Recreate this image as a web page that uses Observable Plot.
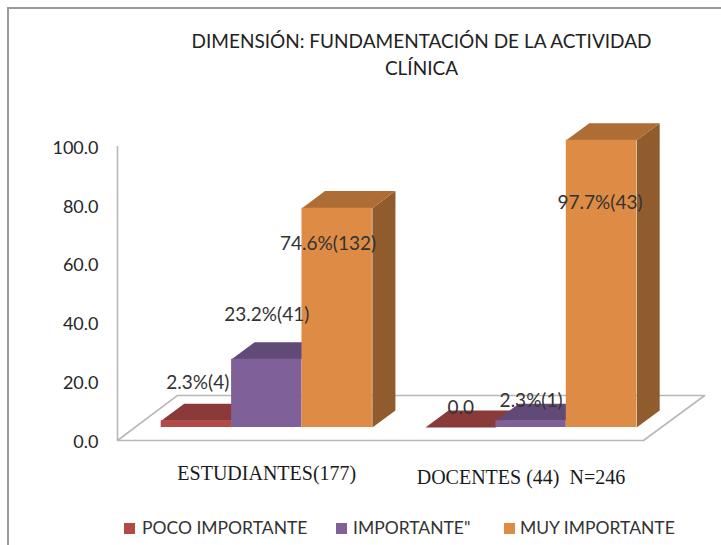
<!DOCTYPE html>
<html>
<head>
<meta charset="utf-8">
<script src="https://cdn.jsdelivr.net/npm/d3@7"></script>
<script src="https://cdn.jsdelivr.net/npm/@observablehq/plot@0.6"></script>
<style>
html,body{margin:0;padding:0;background:#fff;width:721px;height:545px;overflow:hidden}
#page{position:relative;width:721px;height:545px;font-family:Lato,sans-serif;color:#262626}
#edge{position:absolute;left:7px;top:7px;right:-5px;bottom:-5px;border:2px solid #9a9a9a}
#title{position:absolute;left:0;top:27px;width:843px;text-align:center;font-size:19px;line-height:27px;color:#222}
#chart{position:absolute;left:0;top:85px}
#chart svg{overflow:visible}
#legend{position:absolute;left:0;top:517px;height:22px;font-size:17.5px;line-height:22px;color:#333}
#legend span{position:absolute;white-space:nowrap}
#legend i{position:absolute;top:6px;width:11px;height:11px}
</style>
</head>
<body>
<div id="page">
  <div id="edge"></div>
  <div id="title">DIMENSIÓN: FUNDAMENTACIÓN DE LA ACTIVIDAD<br>CLÍNICA</div>
  <div id="chart"></div>
  <div id="legend"></div>
</div>
<script>
// ---- data ----
const groups = ["ESTUDIANTES(177)", "DOCENTES (44)  N=246"];
const levels = ["POCO IMPORTANTE", "IMPORTANTE\"", "MUY IMPORTANTE"];
const estudiantes = [2.3, 23.2, 74.6];
const docentes = [0.0, 2.3, 97.7];
const estudiantesLabels = ["2.3%(4)", "23.2%(41)", "74.6%(132)"];
const docentesLabels = ["0.0", "2.3%(1)", "97.7%(43)"];
const yTicks = [0, 20, 40, 60, 80, 100];

// ---- styling ----
const frontColor = ["#b24a48", "#7f6099", "#de8b45"];
const topColor = ["#8a3a39", "#614a78", "#ad6d35"];
const sideColor = ["#7a3332", "#54406a", "#915c2d"];

// ---- layout (units: x = one bar width, y = value units) ----
const groupStep = 3.754;
const depthX = 0.327, depthY = 5.8;
const lift = -13;
const xDomain = [-0.6207, 7.959];
const floorLine = [[-0.6207, 0], [0.2275, 15.3], [7.72, 15.3], [6.85, 0], [-0.6207, 0]].map(([x, y]) => ({x, y}));
const labelNudge = [
  [[0.02, -51], [0, -57], [-0.13, 23]],
  [[0, -33], [0, -33], [-0.02, 50]]
];
const groupLabelPos = [[1.5, 33], [5.11, 37]];

const rows = groups.flatMap((g, gi) => levels.map((level, li) => ({
  group: g, level, li, gi, value: (gi ? docentes : estudiantes)[li],
  label: (gi ? docentesLabels : estudiantesLabels)[li],
  x1: gi * groupStep + li, x2: gi * groupStep + li + 1
})));

const face = (pts, fill) => Plot.line(pts.map(([x, y]) => ({x, y})), {
  x: "x", y: "y", fill, stroke: "none", dy: lift
});

const barMarks = rows.flatMap(r => {
  const {x1, x2, value: v, li} = r;
  return [
    face([[x2, 0], [x2 + depthX, depthY], [x2 + depthX, v + depthY], [x2, v]], sideColor[li]),
    face([[x1, v], [x2, v], [x2 + depthX, v + depthY], [x1 + depthX, v + depthY]], topColor[li]),
    Plot.rectY([r], {x1: "x1", x2: "x2", y1: 0, y2: "value", fill: frontColor[li], dy: lift})
  ];
});

const labelMarks = rows.map(r => Plot.text([r], {
  x: d => (d.x1 + d.x2) / 2 + labelNudge[d.gi][d.li][0],
  y: "value", text: "label", dy: labelNudge[r.gi][r.li][1],
  fontSize: 19, fontFamily: "Lato", fill: "#333"
}));

const groupMarks = groups.map((g, i) => Plot.text([g], {
  x: () => groupLabelPos[i][0], y: () => 0, text: d => d, dy: groupLabelPos[i][1],
  fontSize: 20, fontFamily: "Liberation Serif", fill: "#1a1a1a"
}));

const plot = Plot.plot({
  width: 721, height: 415,
  marginLeft: 117, marginRight: 0, marginTop: 61, marginBottom: 60,
  style: {background: "transparent", overflow: "visible"},
  x: {domain: xDomain, axis: null},
  y: {domain: [0, 100], axis: null},
  marks: [
    Plot.line(floorLine, {x: "x", y: "y", stroke: "#b8b8b8", strokeWidth: 1.6}),
    Plot.ruleX([xDomain[0]], {y1: 0, y2: 100, stroke: "#b8b8b8", strokeWidth: 1.6}),
    Plot.axisY({ticks: yTicks, tickFormat: d3.format(".1f"), tickSize: 0, tickPadding: 19, label: null,
      fontSize: 18, fontFamily: "Lato", fill: "#262626", dy: 1.5}),
    ...barMarks,
    ...labelMarks,
    ...groupMarks
  ]
});
document.getElementById("chart").append(plot);

const legendX = [[124, 142], [336, 353], [504, 520]];
const legend = document.getElementById("legend");
levels.forEach((t, i) => {
  const sw = document.createElement("i");
  sw.style.left = legendX[i][0] + "px"; sw.style.background = frontColor[i];
  const s = document.createElement("span");
  s.style.left = legendX[i][1] + "px"; s.textContent = t;
  legend.append(sw, s);
});
</script>
</body>
</html>
